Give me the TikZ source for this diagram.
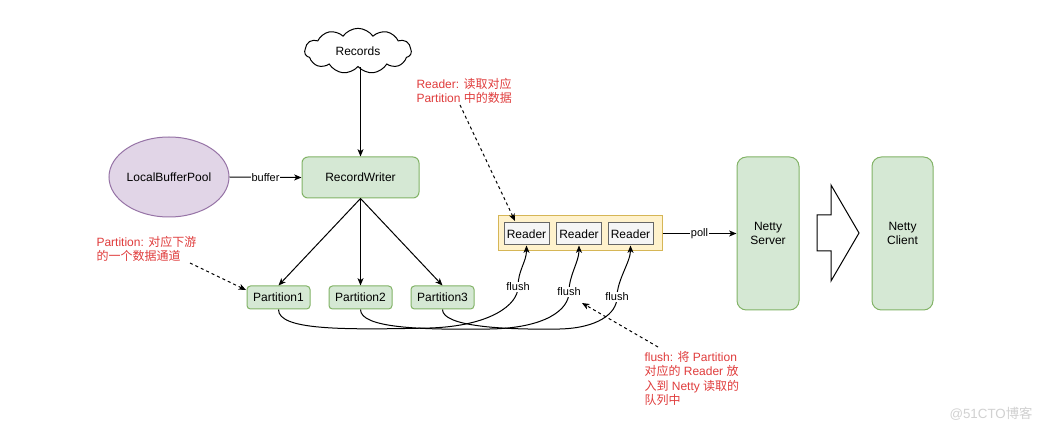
\documentclass[tikz,border=0pt]{standalone}
\usepackage{fontspec}
\setmainfont{Liberation Sans}
\newfontfamily\cjk{Noto Sans CJK SC}
\newcommand\zh[1]{{\cjk #1}}
\usetikzlibrary{shapes.symbols,shapes.geometric,arrows.meta}
\definecolor{gfill}{HTML}{D5E8D4}
\definecolor{gdraw}{HTML}{82B366}
\definecolor{pfill}{HTML}{E1D5E7}
\definecolor{pdraw}{HTML}{9673A6}
\definecolor{yfill}{HTML}{FFF2CC}
\definecolor{ydraw}{HTML}{D6B656}
\definecolor{rfill}{HTML}{F5F5F5}
\definecolor{rdraw}{HTML}{666666}
\definecolor{notecol}{HTML}{E03C3C}
\begin{document}
\begin{tikzpicture}[x=0.75pt,y=-0.75pt,
  font=\fontsize{9}{10.9}\selectfont,
  line width=0.75pt,
  gbox/.style={draw=gdraw,fill=gfill,inner sep=0,align=center},
  rbox/.style={draw=rdraw,fill=rfill,inner sep=0,minimum width=33.75pt,minimum height=16.5pt},
  conn/.style={draw=black,-{Stealth[length=5.5pt,width=4.5pt,inset=1.5pt]}},
  dconn/.style={conn,dash pattern=on 2.25pt off 2.25pt},
  lbl/.style={fill=white,inner sep=0.5pt,font=\fontsize{8.25}{10}\selectfont},
  notetxt/.style={text=notecol,align=left,inner sep=0,anchor=north west,font=\fontsize{9}{10.8}\selectfont}]
\useasboundingbox[fill=white] (0,0) rectangle (1046,438);

% nodes
\node[cloud,cloud puffs=11,cloud puff arc=110,aspect=2.4,draw,fill=white,
  minimum width=80pt,minimum height=34pt,inner sep=0] (rec) at (358,51) {Records};
\node[gbox,rounded corners=4.5pt,minimum width=87.75pt,minimum height=30.75pt] (rw) at (360.5,177.5) {RecordWriter};
\node[ellipse,draw=pdraw,fill=pfill,minimum width=90pt,minimum height=60pt,inner sep=0] (lbp) at (169,177) {LocalBufferPool};
\node[gbox,rounded corners=2.6pt,minimum width=47.25pt,minimum height=17.25pt] (p1) at (278.5,297.5) {Partition1};
\node[gbox,rounded corners=2.6pt,minimum width=47.25pt,minimum height=17.25pt] (p2) at (360.5,297.5) {Partition2};
\node[gbox,rounded corners=2.6pt,minimum width=47.25pt,minimum height=17.25pt] (p3) at (442.5,297.5) {Partition3};
\node[draw=ydraw,fill=yfill,minimum width=123pt,minimum height=26.25pt,inner sep=0] (cont) at (580,233.5) {};
\node[rbox] (r1) at (526.5,234) {Reader};
\node[rbox] (r2) at (579,234) {Reader};
\node[rbox] (r3) at (630.5,234) {Reader};
\node[gbox,rounded corners=7pt,minimum width=46.5pt,minimum height=114.75pt] (ns) at (768,233.5) {Netty\\Server};
\node[gbox,rounded corners=7pt,minimum width=45.75pt,minimum height=114.75pt] (nc) at (902.5,233.5) {Netty\\Client};

% block arrow
\draw[fill=white] (817,215) -- (831,215) -- (831,185) -- (859,233) -- (831,281) -- (831,251) -- (817,251) -- cycle;

% connectors
\draw[conn] (rw.north |- rec.south) -- (rw.north);
\draw[conn] (lbp.east) -- node[lbl]{buffer} (rw.west);
\draw[conn] (rw.south) -- (p1.north);
\draw[conn] (rw.south) -- (p2.north);
\draw[conn] (rw.south) -- (p3.north);
\draw[conn] (cont.east) -- node[lbl]{poll} (ns.west);

\draw[conn] (p1.south) .. controls (278.5,330) and (340,330) .. (430,328)
  .. controls (490,326) and (518,305) .. (518,287)
  .. controls (518,270) and (526.5,262) .. (r1.south);
\draw[conn] (p2.south) .. controls (360.5,328) and (420,330) .. (490,329)
  .. controls (545,328) and (569,310) .. (569,292)
  .. controls (569,275) and (579,262) .. (r2.south);
\draw[conn] (p3.south) .. controls (442.5,326) and (500,330) .. (560,329)
  .. controls (597,328) and (617,314) .. (617,297)
  .. controls (617,280) and (630.5,262) .. (r3.south);
\node[lbl] (f1) at (518,287) {flush};
\node[lbl] (f2) at (569,292) {flush};
\node[lbl] (f3) at (617,297) {flush};

% notes
\node[notetxt] (n1) at (96,235.5) {Partition: \zh{对应下游}\\\zh{的一个数据通道}};
\node[notetxt] (n2) at (416,77.5) {Reader: \zh{读取对应}\\Partition \zh{中的数据}};
\node[notetxt] (n3) at (644,351) {flush: \zh{将} Partition\\\zh{对应的} Reader \zh{放}\\\zh{入到} Netty \zh{读取的}\\\zh{队列中}};
\coordinate (a1) at (190,263);
\coordinate (b1) at (246,290);
\coordinate (a2) at (460,105);
\coordinate (b2) at (515,221);
\coordinate (a3) at (658,347);
\coordinate (b3) at (582,303);
\draw[dconn] (a1) -- (b1);
\draw[dconn] (a2) -- (b2);
\draw[dconn] (a3) -- (b3);

% watermark
\node[text=black!18,font=\fontsize{10}{12}\selectfont,inner sep=0] (wm) at (991,414) {@51CTO\zh{博客}};
\end{tikzpicture}
\end{document}
